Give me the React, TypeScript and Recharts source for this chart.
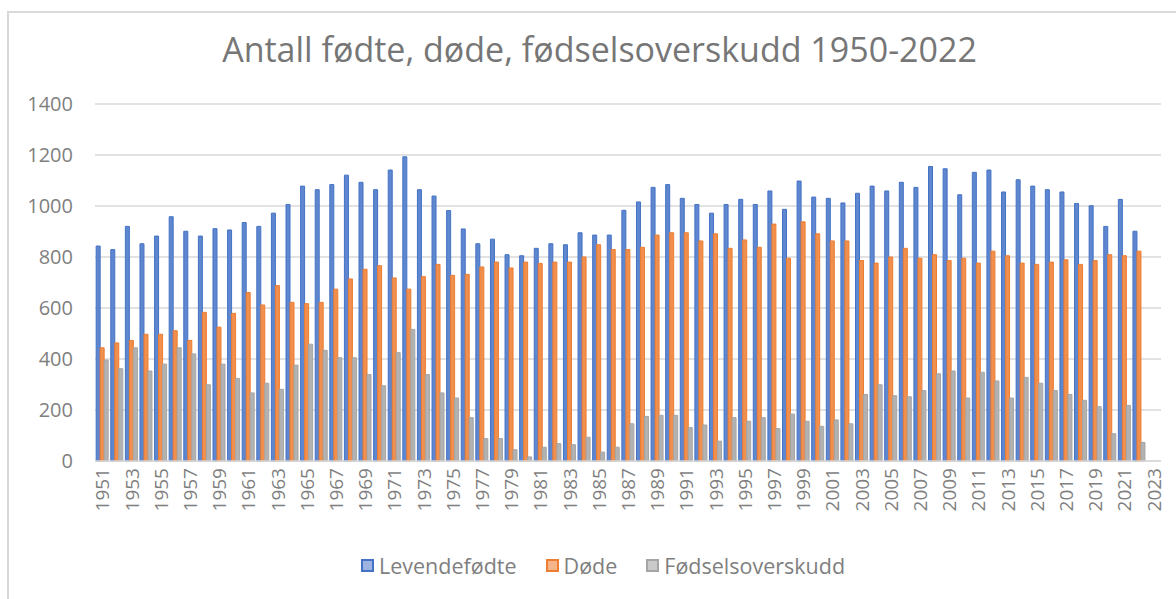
import React from 'react';
import { BarChart, Bar, XAxis, YAxis, CartesianGrid, Legend } from 'recharts';

const years = [
  1951, 1952, 1953, 1954, 1955, 1956, 1957, 1958, 1959, 1960,
  1961, 1962, 1963, 1964, 1965, 1966, 1967, 1968, 1969, 1970,
  1971, 1972, 1973, 1974, 1975, 1976, 1977, 1978, 1979, 1980,
  1981, 1982, 1983, 1984, 1985, 1986, 1987, 1988, 1989, 1990,
  1991, 1992, 1993, 1994, 1995, 1996, 1997, 1998, 1999, 2000,
  2001, 2002, 2003, 2004, 2005, 2006, 2007, 2008, 2009, 2010,
  2011, 2012, 2013, 2014, 2015, 2016, 2017, 2018, 2019, 2020,
  2021, 2022, 2023,
];

const levendefodte = [
  843, 829, 920, 852, 882, 958, 901, 882, 911, 906,
  935, 920, 972, 1006, 1078, 1064, 1084, 1121, 1093, 1064,
  1141, 1193, 1064, 1039, 982, 910, 852, 870, 809, 805,
  834, 852, 848, 895, 886, 886, 983, 1016, 1073, 1084,
  1030, 1006, 972, 1006, 1026, 1006, 1059, 987, 1098, 1035,
  1030, 1012, 1050, 1078, 1059, 1093, 1073, 1155, 1146, 1044,
  1132, 1141, 1055, 1103, 1078, 1064, 1055, 1010, 1001, 920,
  1026, 901, null,
];

const dode = [
  444, 463, 473, 497, 497, 511, 473, 583, 525, 579,
  661, 612, 688, 622, 617, 622, 674, 714, 752, 766,
  718, 674, 723, 771, 728, 732, 761, 780, 757, 780,
  775, 780, 780, 800, 848, 829, 829, 838, 886, 895,
  895, 863, 891, 834, 867, 838, 929, 795, 938, 891,
  863, 863, 786, 776, 800, 834, 795, 809, 786, 795,
  776, 823, 805, 776, 771, 780, 789, 771, 786, 809,
  805, 823, null,
];

const fodselsoverskudd = [
  396, 362, 444, 353, 380, 444, 420, 299, 380, 324,
  267, 305, 281, 376, 458, 434, 405, 405, 339, 295,
  425, 516, 339, 267, 247, 170, 88, 88, 44, 16,
  54, 68, 64, 93, 35, 54, 146, 175, 179, 179,
  131, 141, 78, 170, 156, 170, 127, 184, 156, 136,
  161, 146, 261, 299, 256, 252, 276, 342, 353, 247,
  348, 314, 247, 328, 305, 276, 261, 238, 213, 107,
  218, 73, null,
];

const yTicks = [0, 200, 400, 600, 800, 1000, 1200, 1400];

const seriesNames = ['Levendefødte', 'Døde', 'Fødselsoverskudd'];

const data = years.map((y, i) => ({
  year: String(y),
  a: levendefodte[i],
  b: dode[i],
  c: fodselsoverskudd[i],
}));

const FONT = '"Open Sans", "Noto Sans", sans-serif';
const TEXT_COLOR = '#7f7f7f';

const colors = [
  { stroke: '#4472C4', fill: '#5f87d0', legendFill: '#9db4e2' },
  { stroke: '#ED7D31', fill: '#f08f4e', legendFill: '#f6b48a' },
  { stroke: '#A5A5A5', fill: '#b2b2b2', legendFill: '#c9c9c9' },
];

const XTick = (props: any) => {
  const { x, y, payload } = props;
  return (
    <text
      x={x}
      y={y}
      transform={`rotate(-90, ${x}, ${y})`}
      textAnchor="end"
      dominantBaseline="central"
      fill={TEXT_COLOR}
      fontSize={19}
      fontFamily={FONT}
    >
      {payload.value}
    </text>
  );
};

const LegendContent = () => (
  <div
    style={{
      display: 'flex',
      justifyContent: 'center',
      alignItems: 'center',
      fontFamily: FONT,
      fontSize: 21.5,
      color: TEXT_COLOR,
      gap: 29,
    }}
  >
    {seriesNames.map((n, i) => (
      <div key={n} style={{ display: 'flex', alignItems: 'center' }}>
        <span
          style={{
            display: 'inline-block',
            width: 9,
            height: 9,
            border: `2px solid ${colors[i].stroke}`,
            background: colors[i].legendFill,
            marginRight: 5,
          }}
        />
        <span>{n}</span>
      </div>
    ))}
  </div>
);

export default function App() {
  return (
    <div
      style={{
        position: 'absolute',
        left: 0,
        top: 0,
        width: 1176,
        height: 599,
        background: '#fff',
        overflow: 'hidden',
      }}
    >
      <div
        style={{
          position: 'absolute',
          left: 7,
          top: 11,
          width: 1200,
          height: 620,
          borderTop: '2px solid #d9d9d9',
          borderLeft: '2px solid #d9d9d9',
        }}
      />
      <div
        style={{
          position: 'absolute',
          left: 0,
          top: 26,
          width: 1199,
          textAlign: 'center',
          fontFamily: FONT,
          fontSize: 34,
          color: '#767676',
          lineHeight: '46px',
        }}
      >
        Antall fødte, døde, fødselsoverskudd 1950-2022
      </div>
      <div style={{ position: 'absolute', left: 0, top: 0 }}>
        <BarChart
          width={1176}
          height={599}
          data={data}
          margin={{ top: 104, right: 15, left: 0, bottom: 78 }}
          barCategoryGap="8%"
          barGap={0}
        >
          <CartesianGrid vertical={false} stroke="#d9d9d9" strokeWidth={1.5} />
          <XAxis
            dataKey="year"
            interval={1}
            tickLine={false}
            axisLine={{ stroke: '#d9d9d9', strokeWidth: 1.5 }}
            tick={<XTick />}
            tickMargin={1}
            height={60}
          />
          <YAxis
            domain={[0, 1400]}
            ticks={yTicks}
            width={95}
            tickLine={false}
            axisLine={false}
            tickMargin={16}
            tick={{ fill: TEXT_COLOR, fontSize: 20, fontFamily: FONT }}
          />
          <Legend
            verticalAlign="middle"
            align="center"
            layout="horizontal"
            wrapperStyle={{ top: 551, left: 0, width: 1206 }}
            content={<LegendContent />}
          />
          <Bar dataKey="a" name={seriesNames[0]} fill={colors[0].fill} stroke={colors[0].stroke} strokeWidth={1} isAnimationActive={false} />
          <Bar dataKey="b" name={seriesNames[1]} fill={colors[1].fill} stroke={colors[1].stroke} strokeWidth={1} isAnimationActive={false} />
          <Bar dataKey="c" name={seriesNames[2]} fill={colors[2].fill} stroke={colors[2].stroke} strokeWidth={1} isAnimationActive={false} />
        </BarChart>
      </div>
    </div>
  );
}
